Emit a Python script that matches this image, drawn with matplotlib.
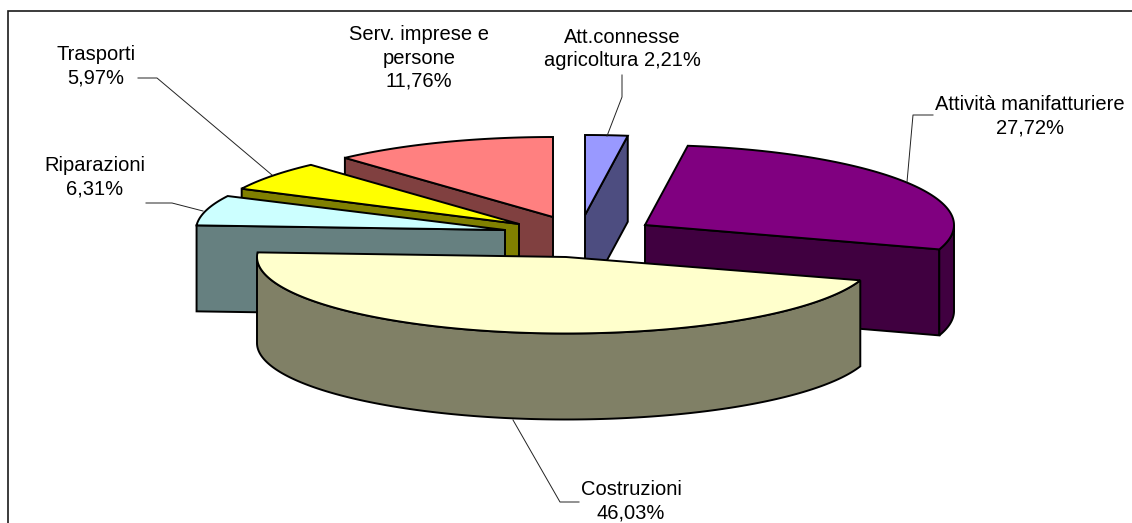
import numpy as np
import matplotlib
matplotlib.use("Agg")
import matplotlib.pyplot as plt
from matplotlib.patches import Polygon

plt.rcParams['font.family'] = ['Liberation Sans', 'DejaVu Sans']

# clockwise from 12 o'clock
categories = ['Att.connesse', 'Attività manifatturiere', 'Costruzioni',
              'Riparazioni', 'Trasporti', 'Serv. imprese e']
values = [2.21, 27.72, 46.03, 6.31, 5.97, 11.76]
top_colors = ['#9999FF', '#800080', '#FFFFCC', '#CCFFFF', '#FFFF00', '#FF8080']
side_colors = ['#4D4D80', '#400040', '#808066', '#668080', '#808000', '#804040']

# exploded centre of each slice in pixels, and its vertical radius
# (slices further back come out a bit taller in the original)
apex = [(585, 215), (645, 225), (566, 257), (505, 230), (519, 224), (553, 217)]
radius_y = [80, 80, 76.5, 77, 80, 80]
draw_order = [5, 4, 3, 0, 1, 2]
RX, DEPTH = 309, 86
LW = 1.4


def pt(c, theta, ry):
    return np.array([c[0] + RX * np.sin(theta), c[1] - ry * np.cos(theta)])


def poly(ax, pts, color):
    ax.add_patch(Polygon(pts, closed=True, facecolor=color, edgecolor='black',
                         linewidth=LW, joinstyle='miter'))


def draw_slice(ax, c, ry, a0, a1, top, side):
    d = np.array([0, DEPTH])
    c = np.array(c, dtype=float)
    # radial wall that faces the viewer
    if a0 > np.pi:
        p = pt(c, a0, ry)
        poly(ax, [p, c, c + d, p + d], side)
    if a1 < np.pi:
        p = pt(c, a1, ry)
        poly(ax, [c, p, p + d, c + d], side)
    # outer wall, only the front half of the ellipse
    lo, hi = max(a0, np.pi / 2), min(a1, 3 * np.pi / 2)
    if hi > lo:
        t = np.linspace(lo, hi, 200)
        arc = np.array([pt(c, v, ry) for v in t])
        poly(ax, np.vstack([arc, arc[::-1] + d]), side)
    t = np.linspace(a0, a1, 200)
    arc = np.array([pt(c, v, ry) for v in t])
    poly(ax, np.vstack([c, arc]), top)


fig = plt.figure(figsize=(11.32, 5.23), dpi=100)
ax = fig.add_axes([0, 0, 1, 1])
ax.set_xlim(0, 1132)
ax.set_ylim(523, 0)
ax.axis('off')

# chart frame, cut by the image on the right and bottom
ax.plot([8, 8, 1132], [523, 11, 11], color='#1a1a1a', lw=1.2, solid_joinstyle='miter')

edges = np.cumsum([0] + values) / sum(values) * 2 * np.pi
for i in draw_order:
    draw_slice(ax, apex[i], radius_y[i], edges[i], edges[i + 1], top_colors[i], side_colors[i])

# leader lines
leaders = [
    [(607, 136), (622, 97), (622, 75)],
    [(907, 182), (913, 115), (933, 115)],
    [(513, 420), (560, 502), (579, 502)],
    [(203, 211), (172, 203), (146, 203)],
    [(272, 175), (157, 78), (138, 78)],
]
for line in leaders:
    xs, ys = zip(*line)
    ax.plot(xs, ys, color='#222222', lw=0.7)


def pct(v):
    return f'{v:.2f}%'.replace('.', ',')


labels = [
    (622, 49, 'Att.connesse\nagricoltura ' + pct(values[0])),
    (1030, 116, categories[1] + '\n' + pct(values[1])),
    (631, 501, categories[2] + '\n' + pct(values[2])),
    (95, 177, categories[3] + '\n' + pct(values[3])),
    (96, 66, categories[4] + '\n' + pct(values[4])),
    (419, 58, categories[5] + '\npersone\n' + pct(values[5])),
]
for x, y, s in labels:
    ax.text(x, y, s, ha='center', va='center', fontsize=14.5, color='black',
            linespacing=1.27, clip_on=False)

fig.savefig('out.png', dpi=100, facecolor='white')
